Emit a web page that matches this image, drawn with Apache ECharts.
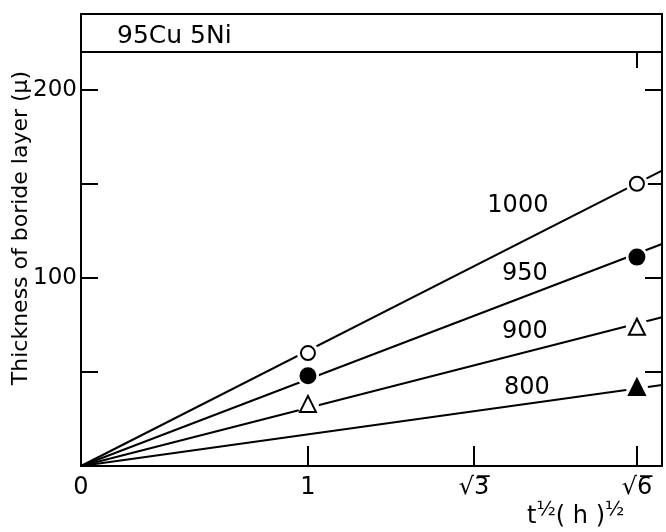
<!DOCTYPE html>
<html>
<head>
<meta charset="utf-8">
<script src="https://cdn.jsdelivr.net/npm/echarts@6/dist/echarts.min.js"></script>
<style>
  html, body { margin: 0; padding: 0; background: #fff; }
  #chart { width: 666px; height: 532px; }
</style>
</head>
<body>
<div id="chart"></div>
<script>
// Boride layer thickness vs. square root of time, 95Cu 5Ni
const temperatures = ['1000', '950', '900', '800'];
const sampleX = [1, Math.sqrt(6)];            // t = 1 h and 6 h
const thickness1000 = [60, 150];
const thickness950 = [48, 111];
const thickness900 = [33, 74];
const thickness800 = [null, 42];
const lineEndX = 2.56;
const lineEndValues = [157, 118, 79, 43];      // each line runs from the origin to the right frame
const xTickValues = [1, Math.sqrt(3), Math.sqrt(6)];
const xTickLabels = ['0', '1', '\u221A3\u0305', '\u221A6\u0305'];
const yTickValues = [50, 100, 150, 200];
const yLabelValues = [100, 200];

// where each temperature tag sits (data units)
const tagAnchors = [[1.925, 138.5], [1.956, 102.4], [1.956, 71.1], [1.965, 41.4]];

const FONT = 'DejaVu Sans';
const seriesValues = [thickness1000, thickness950, thickness900, thickness800];
const markerSymbols = ['circle', 'circle', 'triangle', 'triangle'];
const markerFilled = [false, true, false, true];
const markerSizes = [14, 15, 16, 16];

const chart = echarts.init(document.getElementById('chart'), null, { renderer: 'canvas' });

const xLabelFor = v => {
  const all = [0].concat(xTickValues);
  let best = 0;
  all.forEach((t, i) => { if (Math.abs(t - v) < Math.abs(all[best] - v)) best = i; });
  return xTickLabels[best];
};

const series = [];
temperatures.forEach((t, i) => {
  series.push({
    type: 'line',
    name: t + ' line',
    data: [[0, 0], [lineEndX, lineEndValues[i]]],
    symbol: 'none',
    lineStyle: { color: '#000', width: 2 },
    z: 2,
    silent: true
  });
});
const points = (i) => sampleX.map((x, k) => seriesValues[i][k] == null ? null : [x, seriesValues[i][k]]).filter(p => p);
temperatures.forEach((t, i) => {
  series.push({
    type: 'scatter',
    name: t + ' gap',
    data: points(i),
    symbol: 'circle',
    symbolSize: 22,
    itemStyle: { color: '#fff', opacity: 1 },
    z: 3,
    silent: true
  });
  series.push({
    type: 'scatter',
    name: t,
    data: points(i),
    symbol: markerSymbols[i],
    symbolSize: markerSizes[i],
    itemStyle: {
      color: markerFilled[i] ? '#000' : '#fff',
      borderColor: '#000',
      borderWidth: 2,
      opacity: 1
    },
    z: 4,
    silent: true
  });
});
series.push({
  type: 'scatter',
  name: 'tags',
  data: tagAnchors.map((p, i) => ({ value: p, tag: temperatures[i] })),
  symbolSize: 1,
  itemStyle: { color: 'rgba(0,0,0,0)', opacity: 1 },
  label: {
    show: true,
    position: 'inside',
    formatter: p => p.data.tag,
    color: '#000',
    opacity: 1,
    fontFamily: FONT,
    fontSize: 24
  },
  z: 5,
  silent: true
});

const axisLine = { show: true, onZero: false, lineStyle: { color: '#000', width: 2 } };
const tickStyle = { color: '#000', width: 2 };

chart.setOption({
  animation: false,
  backgroundColor: '#fff',
  title: {
    // x-axis quantity: square root of time in hours
    text: '{m|t}{s|\u00BD}{m|( h )}{s|\u00BD}',
    left: 527, top: 500, padding: 0,
    textStyle: {
      rich: {
        m: { fontFamily: FONT, fontSize: 24, color: '#000', lineHeight: 34, fontWeight: 'normal' },
        s: { fontFamily: FONT, fontSize: 20, color: '#000', lineHeight: 20, verticalAlign: 'top', fontWeight: 'normal' }
      }
    }
  },
  grid: { left: 81, right: 4, top: 52, bottom: 66 },
  xAxis: [
    {
      type: 'value', position: 'bottom', min: 0, max: lineEndX,
      axisLine: axisLine,
      axisTick: { show: true, inside: true, length: 20, customValues: xTickValues, lineStyle: tickStyle },
      axisLabel: {
        show: true, customValues: [0].concat(xTickValues), formatter: xLabelFor,
        color: '#000', fontFamily: FONT, fontSize: 24, margin: 10
      },
      splitLine: { show: false }
    },
    {
      // upper frame: a single inward tick at sqrt(6)
      type: 'value', position: 'top', min: 0, max: lineEndX, interval: Math.sqrt(6),
      axisLine: axisLine,
      axisTick: { show: true, inside: true, length: 16, lineStyle: tickStyle },
      axisLabel: { show: false },
      splitLine: { show: false }
    }
  ],
  yAxis: [
    {
      type: 'value', position: 'left', min: 0, max: 220,
      axisLine: axisLine,
      axisTick: { show: true, inside: true, length: 17, customValues: yTickValues, lineStyle: tickStyle },
      axisLabel: {
        show: true, customValues: yLabelValues,
        color: '#000', fontFamily: FONT, fontSize: 23, margin: 4
      },
      splitLine: { show: false }
    },
    {
      type: 'value', position: 'right', min: 0, max: 220, interval: 50,
      axisLine: axisLine,
      axisTick: { show: true, inside: true, length: 17, lineStyle: tickStyle },
      axisLabel: { show: false },
      splitLine: { show: false }
    }
  ],
  graphic: [
    {
      type: 'rect', z: 10, silent: true,
      shape: { x: 81, y: 14, width: 581, height: 38 },
      style: { fill: 'none', stroke: '#000', lineWidth: 2 }
    },
    {
      type: 'text', z: 10, silent: true, x: 117, y: 36,
      style: { text: '95Cu 5Ni', fill: '#000', font: '25px "DejaVu Sans"', verticalAlign: 'middle', align: 'left' }
    },
    {
      type: 'text', z: 10, silent: true, x: 21, y: 228, rotation: Math.PI / 2,
      style: {
        text: 'Thickness of boride layer (\u03BC)', fill: '#000',
        font: '22px "DejaVu Sans"', align: 'center', verticalAlign: 'middle'
      }
    }
  ],
  series: series
});
</script>
</body>
</html>
